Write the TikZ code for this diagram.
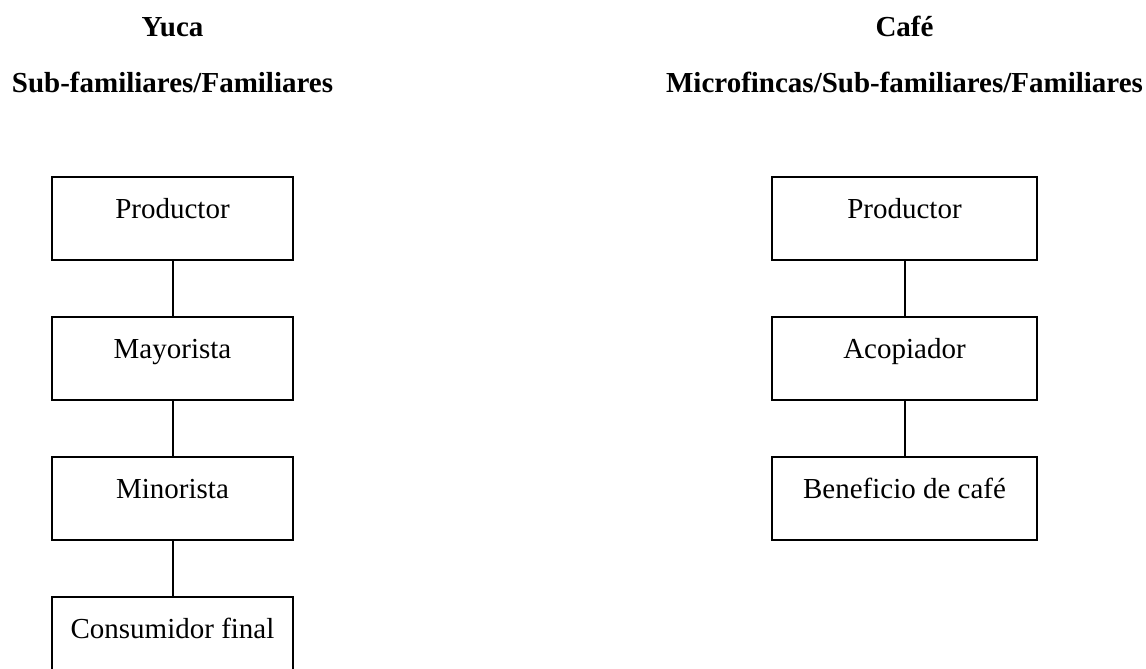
\documentclass[tikz,border=0pt]{standalone}
\usepackage{fontspec}
\setmainfont{Liberation Serif}
\begin{document}
\begin{tikzpicture}[x=1bp,y=-1bp,
  title/.style={font=\fontsize{29bp}{34bp}\selectfont\bfseries, inner sep=0pt, anchor=base},
  stagebox/.style={draw, line width=2bp, minimum width=241bp, inner xsep=0pt, inner ysep=0pt,
    text height=41bp, text depth=42bp, anchor=north, font=\fontsize{29bp}{34bp}\selectfont},
  link/.style={line width=2bp}]
\useasboundingbox (0,0) rectangle (1146,669);
\clip (0,0) rectangle (1146,669);
% titles
\node[title] (t1) at (172.5,37) {Yuca};
\node[title] (t2) at (172.5,93) {Sub-familiares/Familiares};
\node[title] (t3) at (904.5,37) {Café};
\node[title] (t4) at (904.5,93) {Microfincas/Sub-familiares/Familiares};
% left column
\node[stagebox] (a1) at (172.5,176) {Productor};
\node[stagebox] (a2) at (172.5,316) {Mayorista};
\node[stagebox] (a3) at (172.5,456) {Minorista};
\node[stagebox] (a4) at (172.5,596) {Consumidor final};
% right column
\node[stagebox, minimum width=265bp] (b1) at (904.5,176) {Productor};
\node[stagebox, minimum width=265bp] (b2) at (904.5,316) {Acopiador};
\node[stagebox, minimum width=265bp] (b3) at (904.5,456) {Beneficio de café};
% connectors
\draw[link] (a1.south) -- (a2.north);
\draw[link] (a2.south) -- (a3.north);
\draw[link] (a3.south) -- (a4.north);
\draw[link] (b1.south) -- (b2.north);
\draw[link] (b2.south) -- (b3.north);
\end{tikzpicture}
\end{document}
